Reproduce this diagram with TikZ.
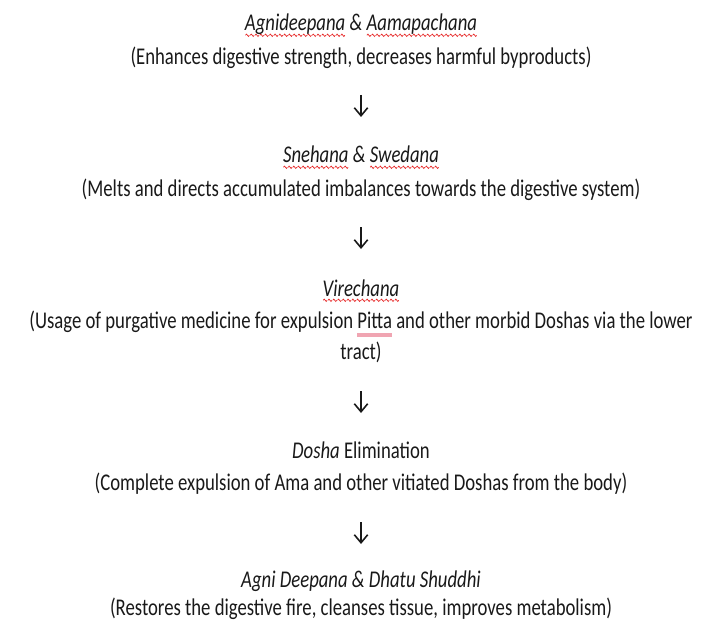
\documentclass[tikz,border=0pt]{standalone}
\usepackage{fontspec}
\setmainfont{Carlito}
\usetikzlibrary{arrows.meta}
\definecolor{spellred}{RGB}{230,40,40}
\definecolor{grammarpink}{RGB}{240,165,178}
\definecolor{inkgray}{RGB}{25,25,25}
\newsavebox\wavebox
\sbox\wavebox{\tikz[baseline=0pt]\draw[spellred,line width=0.6pt] (0,0) sin (0.95pt,0.9pt) cos (1.9pt,0) sin (2.85pt,-0.9pt) cos (3.8pt,0);}
\newcommand\sqz[1]{\scalebox{0.78}[1]{#1}}
\newcommand\spellwave[1]{\setbox0\hbox{#1}\rlap{\lower3.2pt\hbox to\wd0{\xleaders\copy\wavebox\hfill}}\box0\relax}
\newcommand\grammarbar[1]{\setbox0\hbox{#1}\rlap{\textcolor{grammarpink}{\rule[-6.8pt]{\wd0}{3pt}}}\box0\relax}
\begin{document}
\begin{tikzpicture}  % ------ Shodhana steps -----------
      [x=0.75pt,y=-0.75pt,
       every node/.style={anchor=base,inner sep=0pt,text=inkgray,font=\fontsize{18}{22}\selectfont},
       flow/.style={-{Straight Barb[length=6pt,width=10pt]},line width=1.2pt,draw=inkgray}]
    \useasboundingbox (0,0) rectangle (723,627);

    \node (t1) at (361,31) {\sqz{\itshape\spellwave{Agnideepana} \& \spellwave{Aamapachana}}};
    \node (d1) at (361,65) {\sqz{(Enhances digestive strength, decreases harmful byproducts)}};

    \node (t2) at (361,163) {\sqz{\itshape\spellwave{Snehana} \& \spellwave{Swedana}}};
    \node (d2) at (361,196) {\sqz{(Melts and directs accumulated imbalances towards the digestive system)}};

    \node (t3) at (361,296) {\sqz{\itshape\spellwave{Virechana}}};
    \node (d3) at (361,328) {\sqz{(Usage of purgative medicine for expulsion \grammarbar{Pitta} and other morbid Doshas via the lower}};
    \node (d3x) at (361,359) {\sqz{tract)}};

    \node (t4) at (361,458) {\sqz{\textit{Dosha} Elimination}};
    \node (d4) at (361,490) {\sqz{(Complete expulsion of Ama and other vitiated Doshas from the body)}};

    \node (t5) at (361,587) {\sqz{\itshape Agni Deepana \& Dhatu Shuddhi}};
    \node (d5) at (361,615) {\sqz{(Restores the digestive fire, cleanses tissue, improves metabolism)}};

    % arrows between the steps
    \foreach \i/\ya in {1/95,2/227,3/391,4/522} {
      \coordinate (a\i) at (361,\ya);
      \coordinate (b\i) at (361,\ya+22);
      \draw[flow] (a\i) -- (b\i);
    }
\end{tikzpicture}
\end{document}
